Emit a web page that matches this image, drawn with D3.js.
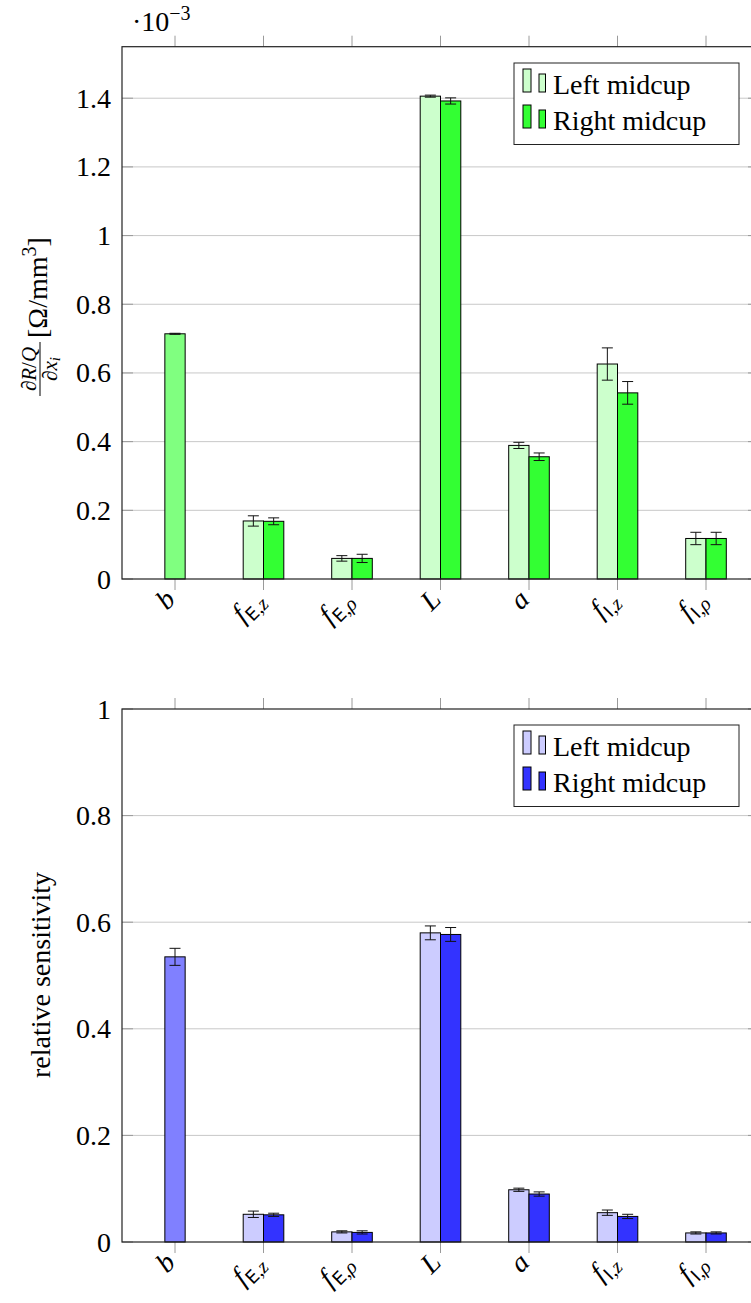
<!DOCTYPE html>
<html>
<head>
<meta charset="utf-8">
<script src="https://cdn.jsdelivr.net/npm/d3@7"></script>
<style>
  body { margin: 0; background: #fff; }
  svg { display: block; }
</style>
</head>
<body>
<svg id="chart"></svg>
<script>
const W = 751;
const H = 1303;
const SERIF = "Liberation Serif";

// categories along x, and how each tick label is typeset
const categories = ["b", "fEz", "fErho", "L", "a", "fIz", "fIrho"];
const tickLabels = [
	{ main: "b" },
	{ main: "f", sub: "E", sub2: ",z" },
	{ main: "f", sub: "E", sub2: ",\u03c1" },
	{ main: "L" },
	{ main: "a" },
	{ main: "f", sub: "I", sub2: ",z" },
	{ main: "f", sub: "I", sub2: ",\u03c1" }
];
const seriesNames = ["Left midcup", "Right midcup"];

// top panel: dR/Q / dx_i  (x 1e-3)
const absB = 0.714, absBErr = 0.0015;
const absLeft = [null, 0.169, 0.060, 1.406, 0.389, 0.626, 0.118];
const absLeftErr = [null, 0.015, 0.008, 0.003, 0.009, 0.047, 0.018];
const absRight = [null, 0.168, 0.060, 1.392, 0.356, 0.542, 0.118];
const absRightErr = [null, 0.010, 0.012, 0.009, 0.011, 0.033, 0.018];
const absTicks = [0, 0.2, 0.4, 0.6, 0.8, 1.0, 1.2, 1.4];

// bottom panel: relative sensitivity
const relB = 0.535, relBErr = 0.016;
const relLeft = [null, 0.052, 0.019, 0.580, 0.098, 0.055, 0.017];
const relLeftErr = [null, 0.006, 0.002, 0.013, 0.003, 0.005, 0.002];
const relRight = [null, 0.051, 0.018, 0.577, 0.090, 0.048, 0.017];
const relRightErr = [null, 0.003, 0.003, 0.013, 0.004, 0.004, 0.002];
const relTicks = [0, 0.2, 0.4, 0.6, 0.8, 1.0];

const svg = d3.select("#chart").attr("width", W).attr("height", H)
	.attr("font-family", SERIF);

const plotLeft = 122, plotRight = 759;
const x = d3.scalePoint().domain(categories).range([plotLeft + 53, plotRight - 53]);
const barW = 20.3;
const FS = 28;

function txt(sel) {
	return sel.append("text").attr("font-family", SERIF).attr("fill", "#000");
}

function drawPanel(cfg) {
	const y = d3.scaleLinear().domain(cfg.domain).range([cfg.bottom, cfg.top]);
	const g = svg.append("g");

	// grid
	g.selectAll(".grid").data(cfg.ticks.filter(t => t > 0 && t < cfg.domain[1])).enter().append("line")
		.attr("x1", plotLeft).attr("x2", plotRight)
		.attr("y1", d => y(d)).attr("y2", d => y(d))
		.attr("stroke", "#c8c8c8").attr("stroke-width", 1);

	// y ticks (inside, both sides)
	cfg.ticks.forEach(t => {
		g.append("line").attr("x1", plotLeft).attr("x2", plotLeft + 11)
			.attr("y1", y(t)).attr("y2", y(t)).attr("stroke", "#9a9a9a");
		g.append("line").attr("x1", plotRight - 11).attr("x2", plotRight)
			.attr("y1", y(t)).attr("y2", y(t)).attr("stroke", "#9a9a9a");
		txt(g).attr("x", 111).attr("y", y(t) + 9.5)
			.attr("text-anchor", "end").attr("font-size", FS)
			.text(d3.format("~g")(t));
	});

	// x ticks (outside, top and bottom)
	categories.forEach(c => {
		g.append("line").attr("x1", x(c)).attr("x2", x(c))
			.attr("y1", cfg.bottom).attr("y2", cfg.bottom + 11).attr("stroke", "#9a9a9a");
		g.append("line").attr("x1", x(c)).attr("x2", x(c))
			.attr("y1", cfg.top - 11).attr("y2", cfg.top).attr("stroke", "#9a9a9a");
	});

	// bars
	const bars = [];
	bars.push({ c: "b", x0: x("b") - barW / 2, v: cfg.b, e: cfg.bErr, fill: cfg.colors[2] });
	categories.forEach((c, i) => {
		if (cfg.left[i] != null) bars.push({ c, x0: x(c) - barW, v: cfg.left[i], e: cfg.leftErr[i], fill: cfg.colors[0] });
		if (cfg.right[i] != null) bars.push({ c, x0: x(c), v: cfg.right[i], e: cfg.rightErr[i], fill: cfg.colors[1] });
	});
	g.selectAll(".bar").data(bars).enter().append("rect")
		.attr("x", d => d.x0).attr("width", barW)
		.attr("y", d => y(d.v)).attr("height", d => cfg.bottom - y(d.v))
		.attr("fill", d => d.fill).attr("stroke", "#000").attr("stroke-width", 1);

	// error bars
	const eb = g.selectAll(".err").data(bars).enter().append("g").attr("stroke", "#111").attr("stroke-width", 1);
	eb.append("line").attr("x1", d => d.x0 + barW / 2).attr("x2", d => d.x0 + barW / 2)
		.attr("y1", d => y(d.v + d.e)).attr("y2", d => y(d.v - d.e));
	eb.append("line").attr("x1", d => d.x0 + barW / 2 - 5.5).attr("x2", d => d.x0 + barW / 2 + 5.5)
		.attr("y1", d => y(d.v + d.e)).attr("y2", d => y(d.v + d.e));
	eb.append("line").attr("x1", d => d.x0 + barW / 2 - 5.5).attr("x2", d => d.x0 + barW / 2 + 5.5)
		.attr("y1", d => y(d.v - d.e)).attr("y2", d => y(d.v - d.e));

	// frame
	g.append("rect").attr("x", plotLeft).attr("y", cfg.top)
		.attr("width", plotRight - plotLeft).attr("height", cfg.bottom - cfg.top)
		.attr("fill", "none").attr("stroke", "#222").attr("stroke-width", 1.2);

	// x tick labels, rotated 45 degrees; each piece is its own text (no tspans),
	// laid out right-to-left so the label ends at the tick
	categories.forEach((c, i) => {
		const lab = tickLabels[i];
		const holder = g.append("g")
			.attr("transform", `translate(${x(c) + 2},${cfg.bottom + 22}) rotate(-45)`);
		const parts = [{ s: lab.main, size: FS, italic: true, dy: 0, fam: SERIF }];
		if (lab.sub) {
			parts.push({ s: lab.sub, size: 18, italic: false, dy: 6, fam: "DejaVu Sans" });
			parts.push({ s: lab.sub2, size: 20, italic: true, dy: 6, fam: SERIF });
		}
		const nodes = parts.map(p => holder.append("text")
			.attr("font-family", p.fam).attr("font-size", p.size)
			.attr("font-style", p.italic ? "italic" : "normal")
			.attr("fill", "#000").attr("y", p.dy).text(p.s));
		const lens = nodes.map(n => n.node().getComputedTextLength());
		let cursor = -d3.sum(lens);
		nodes.forEach((n, k) => { n.attr("x", cursor); cursor += lens[k]; });
	});

	// legend
	const lg = svg.append("g").attr("transform", `translate(514,${cfg.legendTop})`);
	lg.append("rect").attr("width", 225).attr("height", 81.5)
		.attr("fill", "#fff").attr("stroke", "#222").attr("stroke-width", 1);
	seriesNames.forEach((s, k) => {
		const base = 29 + k * 36;
		lg.append("rect").attr("x", 9).attr("y", base - 23).attr("width", 8).attr("height", 23)
			.attr("fill", cfg.colors[k]).attr("stroke", "#000").attr("stroke-width", 1);
		lg.append("rect").attr("x", 25).attr("y", base - 18).attr("width", 6.5).attr("height", 18)
			.attr("fill", cfg.colors[k]).attr("stroke", "#000").attr("stroke-width", 1);
		txt(lg).attr("x", 39).attr("y", base + 2).attr("font-size", FS).text(s);
	});
}

drawPanel({
	domain: [0, 1.55], top: 46.7, bottom: 579, ticks: absTicks,
	b: absB, bErr: absBErr, left: absLeft, leftErr: absLeftErr, right: absRight, rightErr: absRightErr,
	colors: ["#ccffcc", "#33ff33", "#80ff80"], legendTop: 63
});
drawPanel({
	domain: [0, 1], top: 709, bottom: 1242, ticks: relTicks,
	b: relB, bErr: relBErr, left: relLeft, leftErr: relLeftErr, right: relRight, rightErr: relRightErr,
	colors: ["#ccccff", "#3333ff", "#8080ff"], legendTop: 725
});

// scale factor above top panel
const sc = txt(svg).attr("x", 132).attr("y", 31).attr("font-size", FS);
sc.append("tspan").text("\u00b710");
sc.append("tspan").attr("dy", -11).attr("font-size", 20).text("\u22123");

// y label, top panel: fraction + unit
const yl = svg.append("g").attr("transform", "translate(40,310) rotate(-90)");
yl.append("line").attr("x1", -86).attr("x2", -32).attr("y1", 0).attr("y2", 0)
	.attr("stroke", "#000").attr("stroke-width", 1);
const num = txt(yl).attr("x", -59).attr("y", -4).attr("text-anchor", "middle").attr("font-size", 21);
num.append("tspan").text("\u2202");
num.append("tspan").attr("font-style", "italic").text("R");
num.append("tspan").text("/");
num.append("tspan").attr("font-style", "italic").text("Q");
const den = txt(yl).attr("x", -59).attr("y", 17).attr("text-anchor", "middle").attr("font-size", 21);
den.append("tspan").text("\u2202");
den.append("tspan").attr("font-style", "italic").text("x");
den.append("tspan").attr("font-style", "italic").attr("font-size", 15).attr("dy", 3).text("i");
const unit = txt(yl).attr("x", -28).attr("y", 7).attr("font-size", FS);
unit.append("tspan").text("[\u03a9/mm");
unit.append("tspan").attr("dy", -11).attr("font-size", 20).text("3");
unit.append("tspan").attr("dy", 11).text("]");

// y label, bottom panel
txt(svg).attr("transform", "translate(50,975) rotate(-90)")
	.attr("text-anchor", "middle").attr("font-size", FS).text("relative sensitivity");
</script>
</body>
</html>
